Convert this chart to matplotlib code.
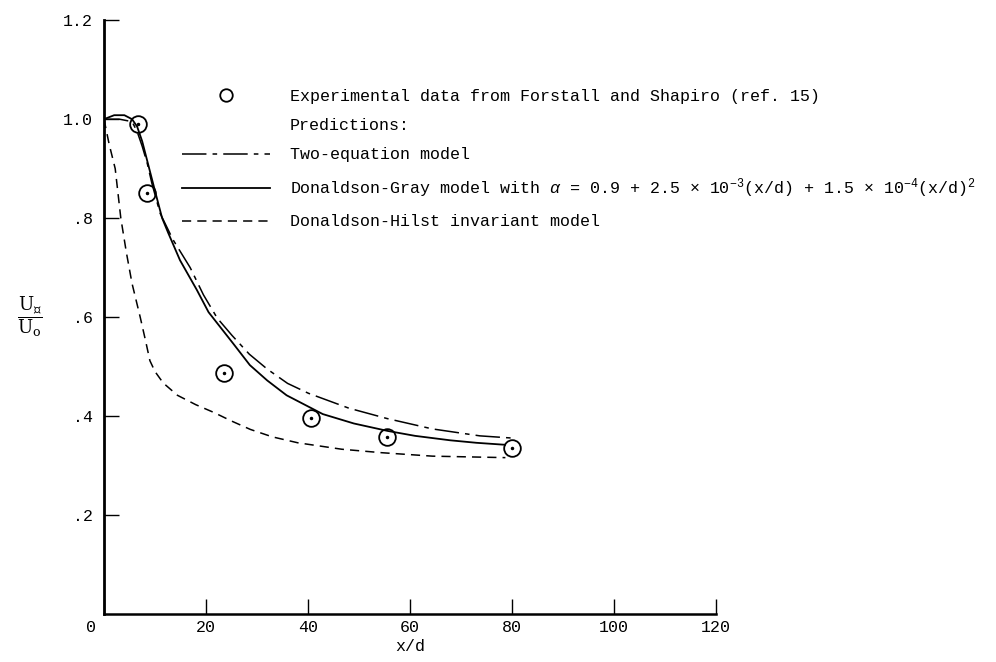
import matplotlib.pyplot as plt
from matplotlib.transforms import ScaledTranslation

plt.rcParams['font.family'] = ['Liberation Mono', 'DejaVu Sans']
plt.rcParams['mathtext.fontset'] = 'custom'
plt.rcParams['mathtext.rm'] = 'Liberation Mono'
plt.rcParams['mathtext.it'] = 'Liberation Mono:italic'
plt.rcParams['mathtext.bf'] = 'Liberation Mono:bold'

# Experimental data from Forstall and Shapiro (ref. 15)
exp_x = [6.7, 8.5, 23.5, 40.5, 55.5, 80]
exp_u = [0.99, 0.85, 0.487, 0.397, 0.357, 0.335]

# Two-equation model
twoeq_x = [0, 3, 5.5, 6.5, 7.5, 8.5, 9.4, 11, 13.5, 16.9, 19.5, 22.2, 25.1, 28.5,
           32, 36, 40.1, 48, 55.5, 64.4, 73.7, 80.8]
twoeq_u = [1.0, 1.0, 0.995, 0.975, 0.945, 0.91, 0.87, 0.81, 0.757, 0.70, 0.645, 0.598,
           0.563, 0.525, 0.495, 0.466, 0.446, 0.416, 0.395, 0.374, 0.36, 0.355]

# Donaldson-Gray model
gray_x = [0, 2, 4, 5.5, 6.5, 7.5, 8.5, 10, 11.4, 12.6, 14.9, 18.2, 20.5, 25.3, 28.6,
          32, 35.8, 42.9, 49, 55.6, 61, 67.9, 73, 78.6]
gray_u = [1.0, 1.008, 1.008, 1.0, 0.985, 0.955, 0.915, 0.855, 0.80, 0.77, 0.715, 0.655,
          0.61, 0.547, 0.503, 0.472, 0.442, 0.404, 0.385, 0.37, 0.36, 0.351, 0.346, 0.342]

# Donaldson-Hilst invariant model
hilst_x = [0, 1, 2.2, 3.3, 4.4, 5.5, 7.1, 8.2, 9, 10, 11.6, 14.4, 18, 21.6, 25, 28.7,
           33, 38, 46.6, 54.4, 64.4, 78.7]
hilst_u = [1.0, 0.95, 0.9, 0.8, 0.73, 0.668, 0.6, 0.55, 0.512, 0.49, 0.467, 0.442, 0.423,
           0.407, 0.39, 0.373, 0.358, 0.346, 0.333, 0.326, 0.319, 0.316]

x_ticks = [0, 20, 40, 60, 80, 100, 120]
y_ticks = [0.2, 0.4, 0.6, 0.8, 1.0, 1.2]
y_tick_labels = ['.2', '.4', '.6', '.8', '1.0', '1.2']

fig = plt.figure(figsize=(9.96, 6.62), dpi=100)
ax = fig.add_axes([0.1044, 0.0725, 0.6145, 0.897])

ax.plot(exp_x, exp_u, linestyle='none', marker='o', markersize=12, markerfacecolor='none',
        markeredgecolor='black', markeredgewidth=1.3,
        label='Experimental data from Forstall and Shapiro (ref. 15)')
ax.plot(exp_x, exp_u, linestyle='none', marker='o', markersize=1.5, color='black')

# invisible entry for the "Predictions:" heading
ax.plot([], [], color='none', label='Predictions:')
ax.plot(twoeq_x, twoeq_u, color='black', linewidth=1.1, dashes=(16, 4, 3, 4),
        label='Two-equation model')
ax.plot(gray_x, gray_u, color='black', linewidth=1.3,
        label='Donaldson-Gray model with $\\alpha$ = 0.9 + 2.5 \u00d7 10$^{-3}$(x/d)'
              ' + 1.5 \u00d7 10$^{-4}$(x/d)$^{2}$')
ax.plot(hilst_x, hilst_u, color='black', linewidth=1.1, dashes=(6, 4),
        label='Donaldson-Hilst invariant model')

ax.set_xlim(0, 120)
ax.set_ylim(0, 1.2)
ax.set_xticks(x_ticks)
ax.set_xticklabels([str(v) for v in x_ticks])
ax.set_yticks(y_ticks)
ax.set_yticklabels(y_tick_labels)
ax.tick_params(direction='in', length=11, width=1, labelsize=12)
ax.tick_params(axis='y', pad=8)
ax.tick_params(axis='x', pad=4)

# the "0" sits left of the corner
lab0 = ax.get_xticklabels()[0]
lab0.set_transform(lab0.get_transform() + ScaledTranslation(-0.13, 0, fig.dpi_scale_trans))

for side in ['top', 'right']:
    ax.spines[side].set_visible(False)
ax.spines['left'].set_linewidth(2)
ax.spines['bottom'].set_linewidth(1.8)

ax.set_xlabel('x/d', fontsize=12, labelpad=3)
ax.set_ylabel('$\\dfrac{\\mathrm{U}_{\u2104}}{\\mathrm{U}_{\\mathrm{o}}}$', rotation=0,
              fontsize=13, ha='center', va='center', math_fontfamily='dejavuserif')
ax.yaxis.set_label_coords(-0.121, 0.5)

ax.legend(loc='upper left', bbox_to_anchor=(0.127, 0.884), frameon=False, fontsize=12,
          handlelength=5.3, handletextpad=1.2, labelspacing=0.85, borderpad=0,
          borderaxespad=0, markerscale=0.75)

fig.savefig('out.png', dpi=100, facecolor='white')
